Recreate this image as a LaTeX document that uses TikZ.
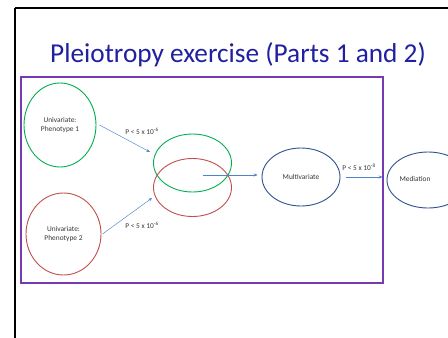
\documentclass[tikz,border=0pt]{standalone}
\usepackage{fontspec}
\setmainfont{Carlito}
\usetikzlibrary{shapes.geometric,arrows.meta}
\definecolor{titleblue}{RGB}{32,32,160}
\definecolor{offgreen}{RGB}{0,176,80}
\definecolor{offred}{RGB}{192,80,77}
\definecolor{navy}{RGB}{47,82,143}
\definecolor{arrowblue}{RGB}{80,130,200}
\definecolor{boxpurple}{RGB}{120,58,178}
\definecolor{txtgray}{RGB}{55,55,55}
\tikzset{
  ell/.style={ellipse, line width=0.9pt, inner sep=0pt, font=\fontsize{7.4}{9}\selectfont, text=txtgray, align=center},
  arr/.style={draw=arrowblue, line width=0.45pt, -{Stealth[length=3.8pt,width=3pt]}},
  plabel/.style={font=\fontsize{7.4}{9}\selectfont, text=txtgray, inner sep=0pt},
}
\begin{document}
\begin{tikzpicture}[x=1pt,y=-1pt]
  \useasboundingbox (0,0) rectangle (448,338);
  \fill[white] (0,0) rectangle (448,338);
  % slide border
  \draw[line width=2.8pt, black] (15,8) -- (470,8);
  \draw[line width=2.8pt, black] (15,8) -- (15,350);
  % title
  \node[font=\fontsize{27.3}{31}\selectfont, text=titleblue, anchor=base] (title) at (238,62) {Pleiotropy exercise (Parts 1 and 2)};
  % enclosing box
  \draw[boxpurple, line width=1.1pt] (21,77) rectangle (383,283);
  % ellipses
  \node[ell, draw=offgreen, minimum width=72pt, minimum height=84pt] (p1) at (60,125) {Univariate:\\Phenotype 1};
  \node[ell, draw=offred, minimum width=75pt, minimum height=82pt] (p2) at (63.5,234) {Univariate:\\Phenotype 2};
  \node[ell, draw=offgreen, minimum width=78pt, minimum height=58pt] (g) at (192.5,163) {};
  \node[ell, draw=offred, minimum width=78pt, minimum height=58pt] (r) at (192.5,187.5) {};
  \node[ell, draw=navy, minimum width=78pt, minimum height=58pt] (mv) at (301,177) {Multivariate};
  \node[ell, draw=navy, minimum width=82pt, minimum height=56pt, label={[plabel, xshift=-13pt, yshift=1pt]center:Mediation}] (med) at (428,180) {};
  % connectors
  \coordinate (mid) at (203,175);
  \draw[arr] ([xshift=3]p1.east) -- ([shift={(-3,-11)}]g.west);
  \draw[arr] ([xshift=1]p2.east) -- ([shift={(-1,10.5)}]r.west);
  \draw[arr] (mid) -- ([xshift=-4]mid -| mv.west);
  \draw[arr] ([xshift=6]mv.east) -- ([xshift=-4]mv.east -| med.west);
  % thresholds
  \node[plabel] (t1) at (142,131) {P < 5 x 10\textsuperscript{-6}};
  \node[plabel] (t2) at (142,225) {P < 5 x 10\textsuperscript{-6}};
  \node[plabel] (t3) at (359,167) {P < 5 x 10\textsuperscript{-8}};
\end{tikzpicture}
\end{document}
